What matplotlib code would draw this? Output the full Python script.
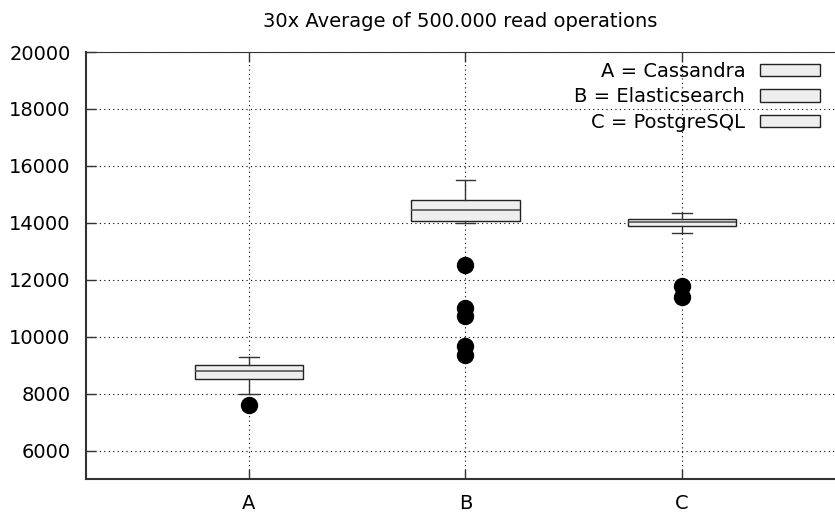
import matplotlib
matplotlib.use("Agg")
import matplotlib.pyplot as plt
from matplotlib.patches import Patch

plt.rcParams["font.family"] = ["DejaVu Sans"]

# ---- data ----
categories = ["A", "B", "C"]
legend_labels = ["A = Cassandra", "B = Elasticsearch", "C = PostgreSQL"]
q1 = [8505, 14066, 13889]
medians = [8787, 14439, 14020]
q3 = [8999, 14817, 14147]
whisker_low = [7976, 13995, 13628]
whisker_high = [9291, 15497, 14334]
outliers = [
    [7588],
    [12514, 11019, 10726, 9669, 9341],
    [11784, 11396],
]
yticks = [6000, 8000, 10000, 12000, 14000, 16000, 18000, 20000]
title = "30x Average of 500.000 read operations"

FS = 14

fig = plt.figure(figsize=(8.35, 5.14), dpi=100)
L, R, T, B = 86, 835, 52, 479
ax = fig.add_axes([L / 835, 1 - B / 514, (R - L) / 835, (B - T) / 514])

stats = []
for i, c in enumerate(categories):
    stats.append(dict(label=c, q1=q1[i], med=medians[i], q3=q3[i],
                      whislo=whisker_low[i], whishi=whisker_high[i],
                      fliers=outliers[i]))

positions = list(range(1, len(categories) + 1))
ax.bxp(stats, positions=positions, widths=0.5, patch_artist=True,
       boxprops=dict(facecolor="#eeeeee", edgecolor="#222222", linewidth=1.0),
       medianprops=dict(color="#555555", linewidth=1.2),
       whiskerprops=dict(color="#333333", linewidth=1.0),
       capprops=dict(color="#333333", linewidth=1.0),
       capwidths=0.09,
       flierprops=dict(marker="o", markerfacecolor="black", markeredgecolor="black",
                       markersize=11.5, linestyle="none"),
       zorder=3)

ax.set_xlim(0.247, 3.707)
ax.set_ylim(5000, 20000)
ax.set_yticks(yticks)
ax.set_xticks(positions)
ax.set_xticklabels(categories)
ax.grid(True, linestyle=(0, (1, 3)), color="black", linewidth=0.8, zorder=0)
ax.set_axisbelow(True)

ax.tick_params(direction="in", length=7, width=1.0, color="#333333",
               labelsize=FS, top=True, right=False)
ax.tick_params(axis="y", pad=11)
ax.tick_params(axis="x", pad=11)
for s in ["left", "bottom"]:
    ax.spines[s].set_linewidth(1.5)
    ax.spines[s].set_color("#333333")
ax.spines["top"].set_linewidth(0.8)
ax.spines["top"].set_color("#333333")
ax.spines["right"].set_visible(False)

ax.set_title(title, fontsize=FS, pad=18)

handles = [Patch(facecolor="#eeeeee", edgecolor="#222222", linewidth=1.0)
           for _ in legend_labels]
leg = ax.legend(handles, legend_labels, loc="upper right", frameon=False,
                markerfirst=False, fontsize=FS, handlelength=3.1,
                handleheight=0.6, labelspacing=0.33, handletextpad=0.75,
                bbox_to_anchor=((820 - L) / (R - L), 1 - 10 / (B - T)),
                borderaxespad=0, borderpad=0)

fig.savefig("out.png", dpi=100)
